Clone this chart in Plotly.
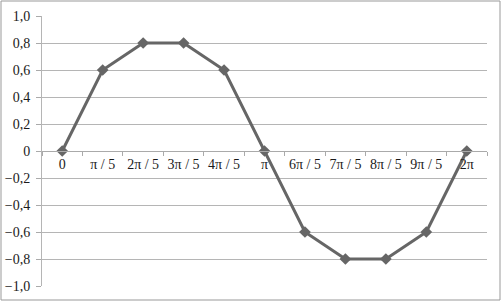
import plotly.graph_objects as go

categories = ["0", "π / 5", "2π / 5", "3π / 5", "4π / 5", "π",
              "6π / 5", "7π / 5", "8π / 5", "9π / 5", "2π"]
values = [0, 0.6, 0.8, 0.8, 0.6, 0, -0.6, -0.8, -0.8, -0.6, 0]
y_ticks = [-1.0, -0.8, -0.6, -0.4, -0.2, 0, 0.2, 0.4, 0.6, 0.8, 1.0]
y_ticktext = ["−1,0", "−0,8", "−0,6", "−0,4", "−0,2", "0",
              "0,2", "0,4", "0,6", "0,8", "1,0"]

W, H = 502, 302
ML, MR, MT, MB = 42, 15, 16, 16
pw, ph = W - ML - MR, H - MT - MB

fig = go.Figure()
fig.add_trace(go.Scatter(
    x=categories, y=values, mode="lines+markers",
    line=dict(color="#666666", width=3),
    marker=dict(symbol="diamond", size=9, color="#666666"),
    showlegend=False, cliponaxis=False,
))

font = dict(family="Liberation Serif", size=14, color="#1a1a1a")

fig.update_layout(
    width=W, height=H,
    margin=dict(l=ML, r=MR, t=MT, b=MB, autoexpand=False),
    paper_bgcolor="white", plot_bgcolor="white",
    font=font,
    xaxis=dict(
        type="category", anchor="free", position=0.5, automargin=False,
        range=[-0.5, len(categories) - 0.5], tickangle=0,
        tickson="boundaries", ticks="outside", ticklen=4, tickcolor="#aaaaaa",
        showgrid=False, showline=True, linecolor="#aaaaaa", linewidth=1,
        tickfont=font, zeroline=False,
    ),
    yaxis=dict(
        range=[-1.0, 1.0], tickvals=y_ticks, ticktext=y_ticktext,
        automargin=False, ticklabelstandoff=3,
        ticks="outside", ticklen=5, tickcolor="#aaaaaa",
        showgrid=True, gridcolor="#b5b5b5", gridwidth=1,
        showline=True, linecolor="#b5b5b5", linewidth=1,
        zeroline=False, tickfont=font,
    ),
    shapes=[dict(
        type="rect", xref="paper", yref="paper",
        x0=(1 - ML) / pw, x1=(W - 2 - ML) / pw,
        y0=-((H - 2) - (H - MB)) / ph, y1=(H - 1 - MB) / ph,
        line=dict(color="#999999", width=1), fillcolor="rgba(0,0,0,0)",
        layer="below",
    )],
)

fig.write_html(
    "out.html",
    config={"displayModeBar": False},
    post_script="document.body.style.margin='0';document.body.style.overflow='hidden';",
)
